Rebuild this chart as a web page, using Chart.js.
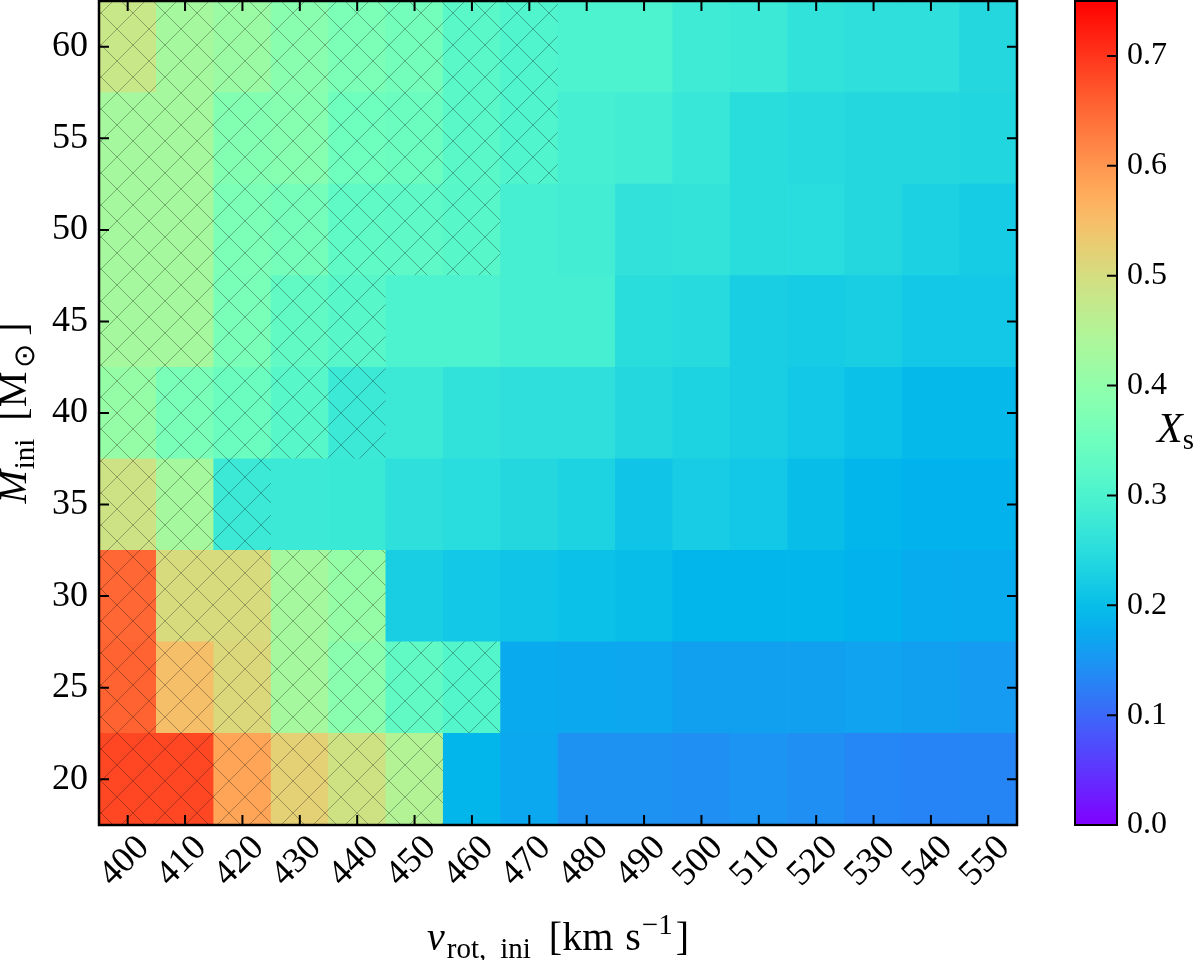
<!DOCTYPE html>
<html>
<head>
<meta charset="utf-8">
<script src="https://cdn.jsdelivr.net/npm/chart.js@4.4.0/dist/chart.umd.min.js"></script>
<style>
  body { margin: 0; background: #fff; }
  #wrap { position: relative; width: 1200px; height: 960px; }
  canvas { position: absolute; left: 0; top: 0; }
</style>
</head>
<body>
<div id="wrap">
  <canvas id="heat" width="1200" height="960"></canvas>
  <canvas id="cbar" width="1200" height="960"></canvas>
</div>
<script>
const vrot = ['400', '410', '420', '430', '440', '450', '460', '470', '480', '490', '500', '510', '520', '530', '540', '550'];
const mass = [20, 25, 30, 35, 40, 45, 50, 55, 60];
const yTicks = [20, 25, 30, 35, 40, 45, 50, 55, 60];
const cbarTicks = [0, 0.1, 0.2, 0.3, 0.4, 0.5, 0.6, 0.7];
const vmin = 0, vmax = 0.75;

// surface X_s per row of M_ini, columns follow vrot
const xs20 = [0.683, 0.683, 0.582, 0.523, 0.49, 0.45, 0.19, 0.172, 0.145, 0.145, 0.142, 0.148, 0.142, 0.133, 0.13, 0.131];
const xs25 = [0.655, 0.548, 0.51, 0.43, 0.39, 0.33, 0.31, 0.174, 0.172, 0.17, 0.162, 0.162, 0.162, 0.165, 0.162, 0.156];
const xs30 = [0.65, 0.504, 0.504, 0.43, 0.408, 0.224, 0.215, 0.21, 0.205, 0.2, 0.19, 0.19, 0.19, 0.185, 0.177, 0.177];
const xs35 = [0.489, 0.43, 0.276, 0.276, 0.273, 0.255, 0.248, 0.24, 0.232, 0.21, 0.222, 0.215, 0.2, 0.19, 0.185, 0.185];
const xs40 = [0.408, 0.365, 0.345, 0.315, 0.276, 0.276, 0.26, 0.255, 0.255, 0.24, 0.232, 0.224, 0.215, 0.205, 0.195, 0.195];
const xs45 = [0.43, 0.43, 0.365, 0.33, 0.315, 0.3, 0.3, 0.29, 0.29, 0.25, 0.245, 0.224, 0.22, 0.224, 0.215, 0.215];
const xs50 = [0.43, 0.43, 0.37, 0.36, 0.327, 0.325, 0.315, 0.29, 0.285, 0.261, 0.263, 0.25, 0.248, 0.24, 0.229, 0.22];
const xs55 = [0.43, 0.43, 0.38, 0.385, 0.35, 0.345, 0.32, 0.305, 0.29, 0.285, 0.27, 0.25, 0.245, 0.24, 0.24, 0.237];
const xs60 = [0.48, 0.43, 0.415, 0.39, 0.37, 0.357, 0.32, 0.305, 0.3, 0.3, 0.28, 0.275, 0.26, 0.255, 0.255, 0.24];
const xsRows = [xs20, xs25, xs30, xs35, xs40, xs45, xs50, xs55, xs60];
// how many columns (from 400) are hatched in each row
const hatchCols = [6, 7, 5, 3, 5, 5, 7, 8, 8];

const SERIF = '"Liberation Serif", "Times New Roman", serif';
const HATCH = 32;

// matplotlib 'rainbow'
function rainbow(v) {
  const t = Math.min(1, Math.max(0, (v - vmin) / (vmax - vmin)));
  const r = Math.min(1, Math.abs(2 * t - 0.5));
  const g = Math.sin(Math.PI * t);
  const b = Math.cos(Math.PI * t / 2);
  return 'rgb(' + Math.round(r * 255) + ',' + Math.round(g * 255) + ',' + Math.round(b * 255) + ')';
}

const heatCanvas = document.getElementById('heat');
const heatCtx = heatCanvas.getContext('2d');

function hatchFill(color) {
  const c = document.createElement('canvas');
  c.width = c.height = HATCH;
  const g = c.getContext('2d');
  g.fillStyle = color;
  g.fillRect(0, 0, HATCH, HATCH);
  g.strokeStyle = 'rgba(0,0,0,0.3)';
  g.lineWidth = 1;
  g.beginPath();
  for (const o of [-HATCH, 0, HATCH]) {
    g.moveTo(o, 0); g.lineTo(o + HATCH, HATCH);
    g.moveTo(o, HATCH); g.lineTo(o + HATCH, 0);
  }
  g.stroke();
  const p = heatCtx.createPattern(c, 'repeat');
  p.setTransform(new DOMMatrix().translate(21, -3));
  return p;
}

function richText(ctx, parts, x, y, rot, align) {
  ctx.save();
  ctx.translate(x, y);
  ctx.rotate(rot);
  let w = 0;
  parts.forEach(p => { ctx.font = p.font; p.w = ctx.measureText(p.t).width; w += p.w + (p.gap || 0); });
  let cx = align === 'left' ? 0 : -w / 2;
  ctx.textAlign = 'left';
  ctx.textBaseline = 'alphabetic';
  ctx.fillStyle = '#000';
  parts.forEach(p => {
    cx += p.gap || 0;
    ctx.font = p.font;
    ctx.fillText(p.t, cx, p.dy || 0);
    cx += p.w;
  });
  ctx.restore();
}

const BIG = '40px ' + SERIF, SMALL = '29px ' + SERIF;

const frame = {
  id: 'frame',
  afterDraw(chart) {
    const { ctx, chartArea: a, scales: { x, y } } = chart;
    ctx.save();
    ctx.strokeStyle = '#000';
    ctx.lineWidth = 2;
    ctx.beginPath();
    vrot.forEach((_, i) => {
      const px = x.getPixelForValue(i);
      ctx.moveTo(px, a.bottom); ctx.lineTo(px, a.bottom - 10);
      ctx.moveTo(px, a.top); ctx.lineTo(px, a.top + 10);
    });
    yTicks.forEach(v => {
      const py = y.getPixelForValue(v);
      ctx.moveTo(a.left, py); ctx.lineTo(a.left + 10, py);
      ctx.moveTo(a.right, py); ctx.lineTo(a.right - 10, py);
    });
    ctx.stroke();
    ctx.lineWidth = 2.5;
    ctx.strokeRect(a.left, a.top, a.right - a.left, a.bottom - a.top);
    ctx.restore();

    richText(ctx, [
      { t: 'v', font: 'italic ' + BIG },
      { t: 'rot,', font: SMALL, dy: 8, gap: 2 },
      { t: 'ini', font: SMALL, dy: 8, gap: 14 },
      { t: '[km', font: BIG, gap: 18 },
      { t: 's', font: BIG, gap: 12 },
      { t: '\u22121', font: SMALL, dy: -16, gap: 1 },
      { t: ']', font: BIG, gap: 3 }
    ], (a.left + a.right) / 2, 950, 0);

    richText(ctx, [
      { t: 'M', font: 'italic ' + BIG },
      { t: 'ini', font: SMALL, dy: 8, gap: 1 },
      { t: '[M', font: BIG, gap: 18 },
      { t: '\u2299', font: SMALL, dy: 8, gap: 4 },
      { t: ']', font: BIG, gap: 8 }
    ], 26, (a.top + a.bottom) / 2, -Math.PI / 2);
  }
};

const datasets = mass.map((m, r) => ({
  data: vrot.map(() => [m - 2.5, m + 2.5]),
  backgroundColor: xsRows[r].map((v, i) => i < hatchCols[r] ? hatchFill(rainbow(v)) : rainbow(v)),
  borderWidth: 0,
  grouped: false,
  barPercentage: 1,
  categoryPercentage: 1
}));

function noPad(s) {
  s.paddingTop = 0; s.paddingBottom = 0; s.paddingLeft = 0; s.paddingRight = 0;
}

new Chart(heatCanvas, {
  type: 'bar',
  data: { labels: vrot, datasets: datasets },
  options: {
    responsive: false,
    devicePixelRatio: 1,
    animation: false,
    layout: { padding: { left: 0, right: 183, top: 1, bottom: 0 } },
    plugins: { legend: { display: false }, tooltip: { enabled: false } },
    scales: {
      x: {
        grid: { display: false, drawTicks: false },
        border: { display: false },
        ticks: {
          autoSkip: false, minRotation: 45, maxRotation: 45,
          padding: 2, labelOffset: 16, color: '#000',
          font: { family: SERIF, size: 36 }
        },
        afterFit: s => { s.height = 135; noPad(s); }
      },
      y: {
        min: 17.5,
        max: 62.5,
        grid: { display: false, drawTicks: false },
        border: { display: false },
        ticks: { padding: 11, color: '#000', font: { family: SERIF, size: 36 } },
        afterBuildTicks: s => { s.ticks = yTicks.map(v => ({ value: v })); },
        afterFit: s => { s.width = 99; noPad(s); }
      }
    }
  },
  plugins: [frame]
});

function cbarGradient(chart) {
  const a = chart.chartArea;
  if (!a) return null;
  const grad = chart.ctx.createLinearGradient(0, a.bottom, 0, a.top);
  for (let k = 0; k <= 30; k++) {
    grad.addColorStop(k / 30, rainbow(vmin + (vmax - vmin) * k / 30));
  }
  return grad;
}

const cbarFrame = {
  id: 'cbarFrame',
  afterDraw(chart) {
    const { ctx, chartArea: a, scales: { y } } = chart;
    ctx.save();
    ctx.strokeStyle = '#000';
    ctx.lineWidth = 2;
    ctx.beginPath();
    cbarTicks.forEach(v => {
      const py = y.getPixelForValue(v);
      ctx.moveTo(a.right, py); ctx.lineTo(a.right - 10, py);
    });
    ctx.stroke();
    ctx.strokeRect(a.left, a.top, a.right - a.left, a.bottom - a.top);
    ctx.restore();
    richText(ctx, [
      { t: 'X', font: 'italic 42px ' + SERIF },
      { t: 's', font: '29px ' + SERIF, dy: 7 }
    ], 1157, 442, 0, 'left');
  }
};

new Chart(document.getElementById('cbar'), {
  type: 'bar',
  data: {
    labels: [''],
    datasets: [{
      data: [[vmin, vmax]],
      backgroundColor: c => cbarGradient(c.chart),
      borderWidth: 0,
      barPercentage: 1,
      categoryPercentage: 1
    }]
  },
  options: {
    responsive: false,
    devicePixelRatio: 1,
    animation: false,
    layout: { padding: { left: 1075, right: 0, top: 1, bottom: 135 } },
    plugins: { legend: { display: false }, tooltip: { enabled: false } },
    scales: {
      x: { display: false },
      y: {
        position: 'right',
        min: vmin,
        max: vmax,
        grid: { display: false, drawTicks: false },
        border: { display: false },
        ticks: { padding: 10, color: '#000', font: { family: SERIF, size: 32 }, callback: v => v.toFixed(1) },
        afterBuildTicks: s => { s.ticks = cbarTicks.map(v => ({ value: v })); },
        afterFit: s => { s.width = 83; noPad(s); }
      }
    }
  },
  plugins: [cbarFrame]
});
</script>
</body>
</html>
